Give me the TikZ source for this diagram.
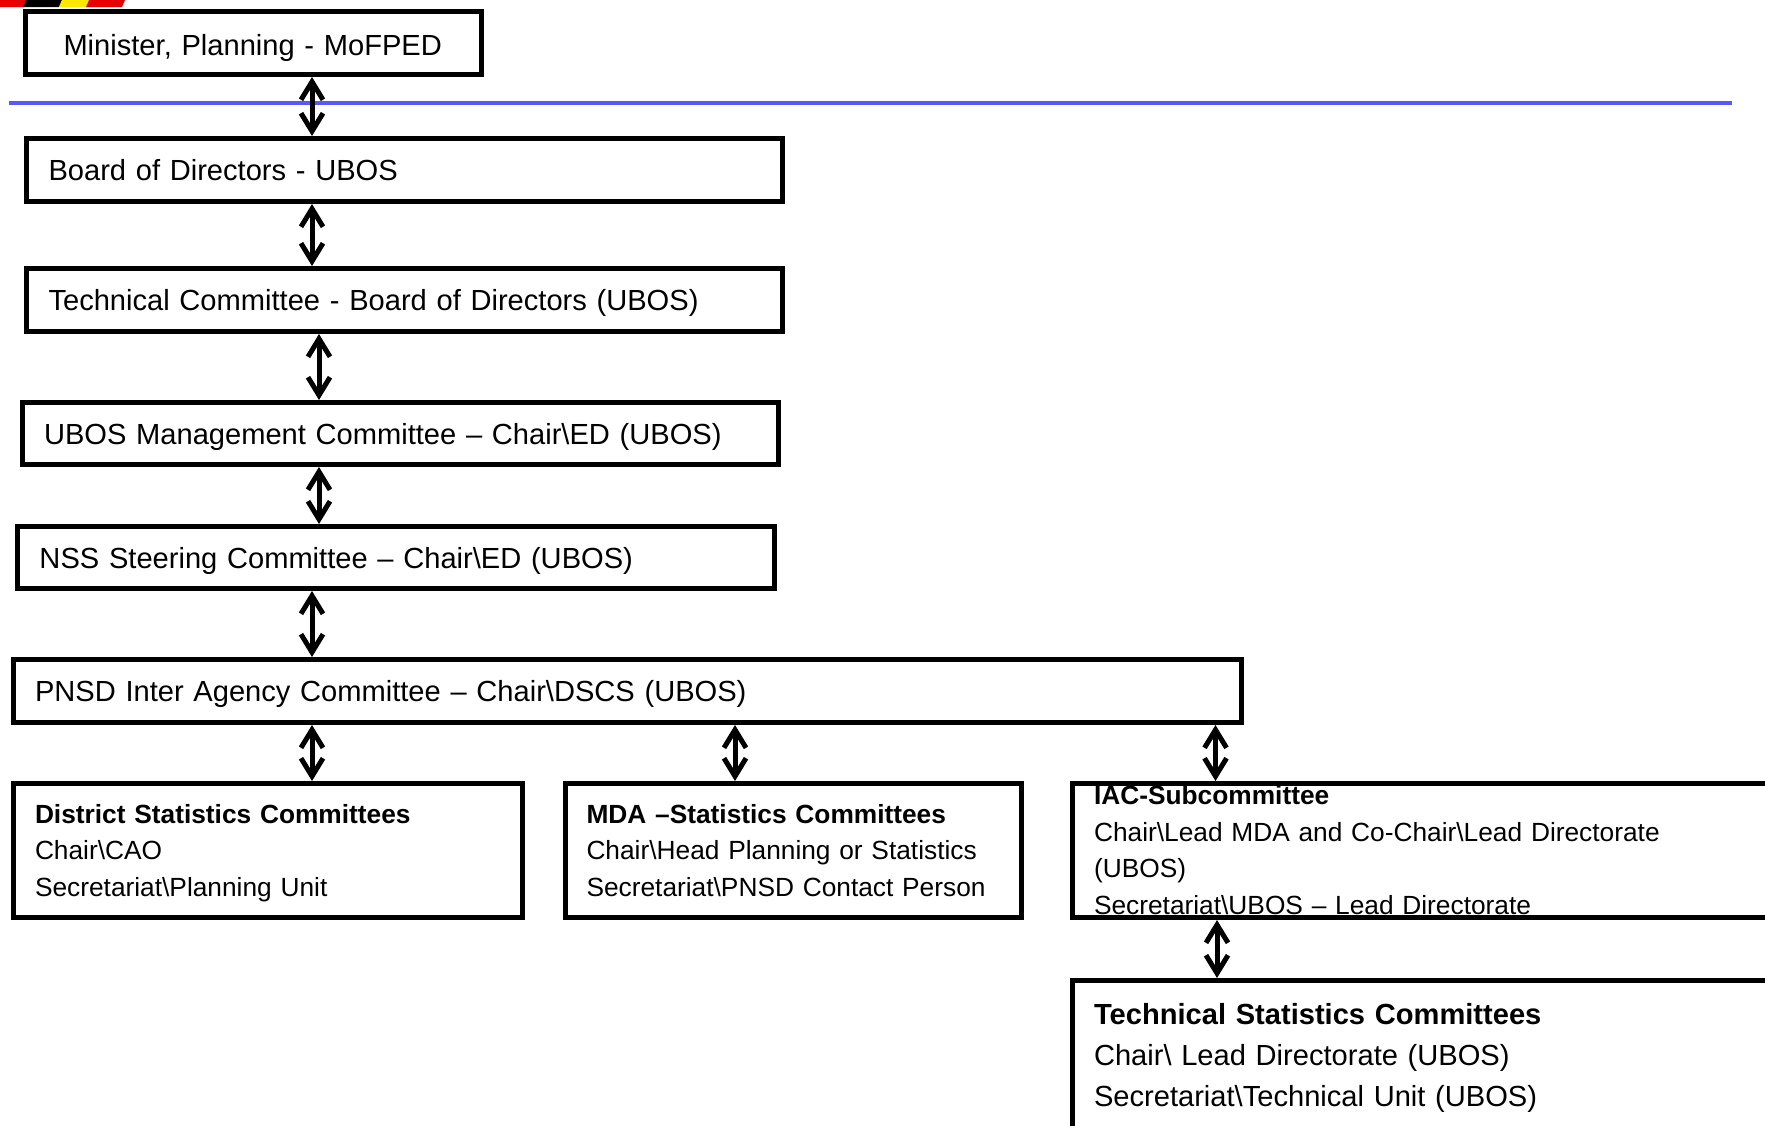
\documentclass[tikz,border=0pt]{standalone}
\usepackage{fontspec}
\setmainfont{Liberation Sans}
\usetikzlibrary{arrows.meta}
\newcommand\bks{\textbackslash{}}
\newcommand\bigf{\fontsize{14.55pt}{20.5pt}\selectfont}
\newcommand\smallf{\fontsize{13.15pt}{18.25pt}\selectfont}
\definecolor{rulecol}{RGB}{88,88,255}
\definecolor{flagred}{RGB}{230,0,0}
\definecolor{flagyellow}{RGB}{255,230,0}
\begin{document}
\begin{tikzpicture}[x=0.5pt,y=-0.5pt,
  box/.style={draw, line width=2.5pt, anchor=north west, align=left, inner ysep=0pt, text depth=0pt, font=\bigf},
  mbox/.style={draw, line width=2.5pt, anchor=north west, align=left, inner ysep=0pt},
  conn/.style={line width=2.5pt, {Straight Barb[length=9pt,width=11pt]}-{Straight Barb[length=9pt,width=11pt]}}]
\useasboundingbox (0,0) rectangle (1765,1125);
% flag stripe
\fill[flagred] (0,0) -- (26,0) -- (23,7) -- (0,7) -- cycle;
\fill[black] (26,0) -- (62,0) -- (59,7) -- (23,7) -- cycle;
\fill[flagyellow] (62,0) -- (89,0) -- (86,7) -- (59,7) -- cycle;
\fill[flagred] (89,0) -- (125,0) -- (122,7) -- (86,7) -- cycle;
% blue rule
\draw[rulecol, line width=2pt] (9,102.5) -- (1732,102.5);
% boxes
\node[box, minimum width=228pt, minimum height=31.5pt, inner xsep=19pt, text width=190pt, text height=12.8pt] (min) at (23,9) {\mbox{Minister, Planning - MoFPED}};
\node[box, minimum width=378pt, minimum height=31.5pt, inner xsep=11pt, text width=356pt] (board) at (24,136) {Board of Directors - UBOS};
\node[box, minimum width=378pt, minimum height=31.5pt, inner xsep=11pt, text width=356pt] (tc) at (24,266) {Technical Committee - Board of Directors (UBOS)};
\node[box, minimum width=378pt, minimum height=31pt, inner xsep=10.75pt, text width=356.5pt] (ubos) at (20,400) {UBOS Management Committee -- Chair\bks ED (UBOS)};
\node[box, minimum width=378.5pt, minimum height=31pt, inner xsep=11pt, text width=356.5pt] (nss) at (15,524) {NSS Steering Committee -- Chair\bks ED (UBOS)};
\node[box, minimum width=614pt, minimum height=31.5pt, inner xsep=10.75pt, text width=592.5pt] (pnsd) at (11,657) {PNSD Inter Agency Committee -- Chair\bks DSCS (UBOS)};
\node[mbox, font=\smallf, text depth=36.8pt, minimum width=254.25pt, minimum height=67pt, inner xsep=10.75pt, text width=232.75pt] (dist) at (11,781) {\textbf{District Statistics Committees}\\Chair\bks CAO\\Secretariat\bks Planning Unit};
\node[mbox, font=\smallf, text depth=36.8pt, minimum width=228pt, minimum height=67pt, inner xsep=10.5pt, text width=207pt] (mda) at (563,781) {\textbf{MDA --Statistics Committees}\\Chair\bks Head Planning or Statistics\\Secretariat\bks PNSD Contact Person};
\node[mbox, font=\smallf, text depth=55.05pt, minimum width=380pt, minimum height=67pt, inner xsep=10.75pt, text width=358.5pt] (iac) at (1070,781) {\textbf{IAC-Subcommittee}\\Chair\bks Lead MDA and Co-Chair\bks Lead Directorate\\(UBOS)\\Secretariat\bks UBOS -- Lead Directorate};
\node[mbox, font=\bigf, text depth=41.3pt, minimum width=380pt, minimum height=74.5pt, inner xsep=10.75pt, text width=358.5pt] (tsc) at (1070,978) {\textbf{Technical Statistics Committees}\\Chair\bks{} Lead Directorate (UBOS)\\Secretariat\bks Technical Unit (UBOS)};
% connector columns
\coordinate (xa) at (312,0);
\coordinate (xb) at (319,0);
\coordinate (xc) at (735,0);
\coordinate (xd) at (1215.5,0);
\coordinate (xe) at (1217,0);
% connectors
\draw[conn] (min.south -| xa) -- (board.north -| xa);
\draw[conn] (board.south -| xa) -- (tc.north -| xa);
\draw[conn] (tc.south -| xb) -- (ubos.north -| xb);
\draw[conn] (ubos.south -| xb) -- (nss.north -| xb);
\draw[conn] (nss.south -| xa) -- (pnsd.north -| xa);
\draw[conn] (pnsd.south -| xa) -- (dist.north -| xa);
\draw[conn] (pnsd.south -| xc) -- (mda.north -| xc);
\draw[conn] (pnsd.south -| xd) -- (iac.north -| xd);
\draw[conn] (iac.south -| xe) -- (tsc.north -| xe);
\end{tikzpicture}
\end{document}
